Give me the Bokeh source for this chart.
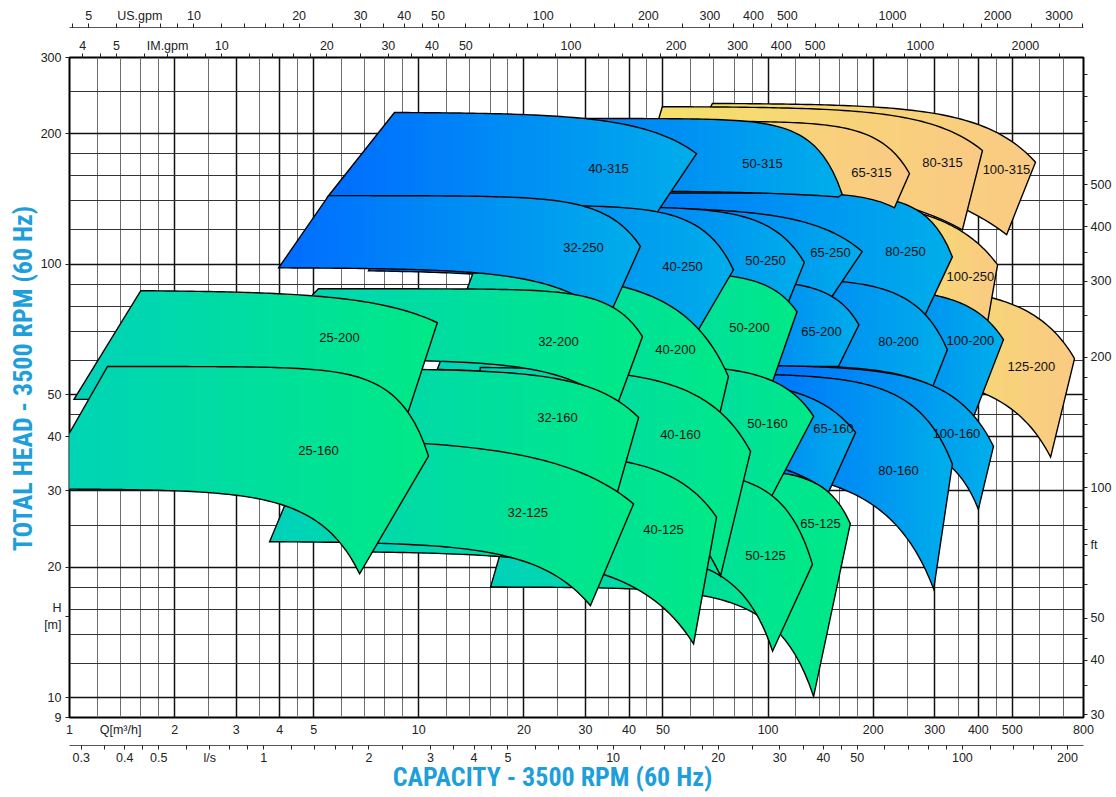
import numpy as np
from bokeh.plotting import figure
from bokeh.models import (Range1d, LogScale, LogAxis, FixedTicker, CustomJSTickFormatter)
from bokeh.embed import file_html
from bokeh.resources import INLINE
from bokeh.core.properties import value

# ---------------- data: pump operating regions (back -> front drawing order) -------------
pump_names = ["125-200", "100-315", "100-250", "100-200", "80-315", "80-250", "80-200",
              "65-315", "65-250", "65-200", "100-160", "80-160", "65-160", "65-125",
              "50-315", "50-250", "50-200", "50-160", "50-125",
              "40-315", "40-250", "40-200", "40-160", "40-125",
              "32-250", "32-200", "32-160", "32-125", "25-200", "25-160"]
pump_kind = ["o", "o", "o", "b", "o", "b", "b",
             "o", "b", "b", "b", "b", "b", "g",
             "b", "b", "g", "g", "g",
             "b", "b", "g", "g", "g",
             "b", "g", "g", "g", "g", "g"]
# corners / mid points of the max-impeller (top) and min-impeller (bottom) curves, Q [m3/h], H [m]
tl_q = [239, 69.3, 210, 141, 49.8, 33.1, 64.1, 33.1, 43.1, 64.1, 98.3, 98.3, 78.1, 20.1,
        19.6, 25.5, 25.5, 33.1, 22.3, 8.52, 8.86, 14.3, 15.0, 8.03, 5.52, 5.16, 4.59, 4.96, 1.60, 1.285]
tl_h = [88.7, 235, 137, 88.3, 231, 146, 93.0, 214, 135, 92.1, 58.4, 55.7, 53.6, 33.7,
        217, 136, 96.0, 58.7, 33.7, 224, 137, 95.5, 57.8, 37.0, 144, 87.8, 57.4, 39.5, 86.9, 58.1]
tm_q = [602, 387, 387, 387, 279, 286, 282, 200, 161, 153, 312, 251, 135, 135,
        138, 104, 104, 121, 104, 45.2, 69.8, 56.1, 73.1, 52.5, 36.1, 36.1, 37.3, 29.0, 7.77, 7.77]
tm_h = [74.5, 212, 114, 78.6, 213, 128, 76.5, 196, 116, 84.1, 51.4, 48.0, 48.8, 31.4,
        185, 120, 87.3, 49.5, 29.0, 204, 114, 77.3, 45.5, 32.4, 127, 79.4, 48.3, 33.1, 80.7, 52.2]
tr_q = [754, 583, 454, 472, 411, 337, 326, 254, 186, 182, 442, 337, 178, 172,
        163, 127, 121, 135, 134, 62.4, 79.6, 77.0, 89.1, 71.2, 43.1, 43.7, 42.6, 41.2, 11.3, 10.66]
tr_h = [60.6, 172, 99.7, 67.0, 183, 104, 63.5, 162, 107, 72.5, 38.0, 34.6, 40.9, 25.2,
        145, 101, 77.7, 44.6, 20.3, 180, 97.1, 55.1, 37.0, 26.1, 110, 68.1, 44.3, 28.0, 73.3, 36.1]
br_q = [644, 482, 419, 380, 360, 273, 296, 230, 147, 159, 400, 298, 149, 135,
        159, 112, 100, 102, 103, 47.6, 60.8, 71.2, 73.1, 61.2, 34.9, 36.6, 35.2, 31.0, 9.34, 6.77]
br_h = [35.9, 117, 68.8, 42.7, 120, 72.5, 52.2, 135, 80.7, 58.1, 27.2, 17.8, 29.8, 10.06,
        143, 78.6, 50.1, 29.0, 12.8, 130, 67.0, 42.0, 19.1, 13.3, 75.3, 46.3, 25.8, 16.3, 45.8, 19.3]
bm_q = [538, 387, 333, 292, 292, 172, 200, 172, 109, 124, 344, 224, 118, 93.3,
        95.1, 64.1, 73.1, 83.4, 85.0, 25.5, 14.1, 43.1, 67.1, 45.2, 26.7, 26.0, 17.1, 25.5, 3.30, 4.59]
bm_h = [43.9, 131, 74.5, 51.4, 130, 82.8, 57.0, 144, 82.8, 58.0, 33.3, 25.8, 33.1, 15.5,
        146, 85.0, 52.8, 29.9, 17.2, 134, 95.0, 50.9, 21.7, 17.2, 86.4, 54.8, 34.6, 18.8, 48.3, 26.8]
bl_q = [210, 56.1, 210, 124, 43.1, 25.5, 60.0, 31.0, 37.8, 60.0, 95.1, 83.4, 64.1, 16.05,
        15.0, 22.3, 22.3, 33.1, 22.3, 5.48, 7.18, 11.3, 14.1, 6.81, 3.97, 3.30, 4.29, 3.74, 1.03, 0.81]
bl_h = [55.7, 169, 82.8, 57.2, 156, 92.1, 58.7, 147, 87.3, 59.6, 39.5, 33.7, 36.4, 18.0,
        148, 92.1, 60.3, 34.6, 21.8, 143, 96.6, 57.2, 33.7, 21.7, 98.1, 60.3, 39.5, 22.9, 48.8, 30.3]
# label anchors for the pump names
label_q = [567.7, 481.5, 379.7, 379.7, 315.8, 247.4, 236.3, 197.7, 150.9, 142.2, 346.3, 236.3, 153.9, 141.3,
           96.4, 98.3, 88.5, 99.6, 98.3, 34.9, 56.9, 54.3, 56.1, 50.2, 29.6, 25.1, 24.96, 20.5, 5.93, 5.16]
label_h = [58.1, 165.8, 93.5, 66.6, 172.0, 106.8, 66.3, 163.2, 106.2, 69.9, 40.7, 33.5, 41.8, 25.2,
           171.1, 101.8, 71.4, 42.96, 21.3, 166.7, 98.6, 63.5, 40.5, 24.5, 109.6, 66.3, 44.3, 26.8, 67.7, 37.2]

# ---------------- axes data ----------------
q_ticks = [1, 1.4, 2, 3, 4, 5, 10, 20, 30, 40, 50, 100, 200, 300, 400, 500, 800]
q_names = {1.4: "Q[m³/h]"}
h_ticks = [9, 10, 15.4, 20, 30, 40, 50, 100, 200, 300]
h_names = {15.4: "H\n[m]"}
ls_major = [0.3, 0.4, 0.5, 0.7, 1, 2, 3, 4, 5, 10, 20, 30, 40, 50, 100, 200]
ls_names = {0.7: "l/s"}
us_major = [5, 7, 10, 20, 30, 40, 50, 100, 200, 300, 400, 500, 1000, 2000, 3000]
us_names = {7: "US.gpm"}
im_major = [4, 5, 7, 10, 20, 30, 40, 50, 100, 200, 300, 400, 500, 1000, 2000]
im_names = {7: "IM.gpm"}
ft_major = [30, 40, 50, 74, 100, 200, 300, 400, 500]
ft_names = {74: "ft"}
x_grid_major = [1, 2, 3, 4, 5, 10, 20, 30, 40, 50, 100, 200, 300, 400, 500]
y_grid_major = [10, 20, 30, 40, 50, 100, 200, 300]
GRID_MULTS = [1, 1.2, 1.4, 1.6, 1.8, 2, 2.5, 3, 3.5, 4, 4.5, 5, 6, 7, 8, 9]

Q_RANGE = (1, 800)
H_RANGE = (9, 300)
TO_LS, TO_US, TO_IM, TO_FT = 1 / 3.6, 4.40287, 3.66615, 3.28084

KIND_COLORS = {"b": ((0, 108, 255), (0, 174, 234)),
               "g": ((0, 210, 186), (0, 233, 134)),
               "o": ((245, 226, 104), (250, 202, 132))}
FONT = "Liberation Sans"
TITLE_FONT = "Roboto Condensed, DejaVu Sans Condensed, Roboto, sans-serif"
TITLE_COLOR = "#1e9fdc"


def log_steps(lo, hi):
    out = []
    for e in range(-2, 5):
        for m in GRID_MULTS:
            v = round(m * 10 ** e, 6)
            if lo * 0.999 <= v <= hi * 1.001:
                out.append(v)
    return out


def minors(lo, hi, majors):
    maj = {round(x, 6) for x in majors}
    return [v for v in log_steps(lo, hi) if v not in maj]


def fit_curve(q1, h1, qm, hm, q2, h2, npts=70):
    def h_at(n, q):
        if abs(n) < 1e-6:
            n = 1e-6
        k = (h1 - h2) / (q2 ** n - q1 ** n)
        return h1 - k * (np.asarray(q, float) ** n - q1 ** n)
    lo, hi = -10.0, 40.0
    for _ in range(100):
        mid = 0.5 * (lo + hi)
        if h_at(mid, qm) > hm:
            hi = mid
        else:
            lo = mid
    n = 0.5 * (lo + hi)
    qs = np.logspace(np.log10(q1), np.log10(q2), npts)
    return qs, h_at(n, qs)


def clip_half(poly, a, keep_ge):
    out = []
    m = len(poly)
    for i in range(m):
        cx, cy = poly[i]
        px, py = poly[i - 1]
        cin = cx >= a if keep_ge else cx <= a
        pin = px >= a if keep_ge else px <= a
        if cin != pin:
            t = (a - px) / (cx - px)
            out.append((a, py + t * (cy - py)))
        if cin:
            out.append((cx, cy))
    return out


def lerp_color(c0, c1, t):
    return "#%02x%02x%02x" % tuple(int(round(a + (b - a) * t)) for a, b in zip(c0, c1))


p = figure(width=1116, height=795, x_axis_type="log", y_axis_type="log",
           x_range=Range1d(*Q_RANGE), y_range=Range1d(*H_RANGE),
           output_backend="svg", toolbar_location=None,
           min_border_left=69, min_border_right=33, min_border_top=57, min_border_bottom=78)
p.background_fill_color = "white"
p.border_fill_color = "white"
p.outline_line_color = "black"
p.outline_line_width = 2

p.extra_x_ranges = {"ls": Range1d(Q_RANGE[0] * TO_LS, Q_RANGE[1] * TO_LS),
                    "us": Range1d(Q_RANGE[0] * TO_US, Q_RANGE[1] * TO_US),
                    "im": Range1d(Q_RANGE[0] * TO_IM, Q_RANGE[1] * TO_IM)}
p.extra_x_scales = {"ls": LogScale(), "us": LogScale(), "im": LogScale()}
p.extra_y_ranges = {"ft": Range1d(H_RANGE[0] * TO_FT, H_RANGE[1] * TO_FT)}
p.extra_y_scales = {"ft": LogScale()}

fmt = CustomJSTickFormatter(code="return String(Math.round(tick*1000)/1000);")


def style_axis(ax, tick_out=4, standoff=3):
    ax.formatter = fmt
    ax.major_label_text_font = FONT
    ax.major_label_text_font_size = "12.5px"
    ax.major_label_text_color = "#222222"
    ax.major_tick_out = tick_out
    ax.major_tick_in = 0
    ax.minor_tick_out = tick_out
    ax.minor_tick_in = 0
    ax.major_tick_line_color = "#222222"
    ax.minor_tick_line_color = "#222222"
    ax.major_label_standoff = standoff


# grids
p.xgrid.ticker = FixedTicker(ticks=x_grid_major, minor_ticks=minors(*Q_RANGE, x_grid_major))
p.xgrid.grid_line_color = "#111111"
p.xgrid.grid_line_width = 1.5
p.xgrid.minor_grid_line_color = "#6e6e6e"
p.xgrid.minor_grid_line_width = 1
p.ygrid.ticker = FixedTicker(ticks=y_grid_major, minor_ticks=minors(*H_RANGE, y_grid_major))
p.ygrid.grid_line_color = "#111111"
p.ygrid.grid_line_width = 1.5
p.ygrid.minor_grid_line_color = "#333333"
p.ygrid.minor_grid_line_width = 1

# main axes
xa = p.xaxis[0]
xa.ticker = FixedTicker(ticks=q_ticks, minor_ticks=[])
style_axis(xa, tick_out=0, standoff=5)
xa.axis_line_color = None
xa.major_label_overrides = q_names
xa.axis_label = "\u00a0"
xa.axis_label_text_font_size = "3px"
xa.axis_label_standoff = 0

ya = p.yaxis[0]
ya.ticker = FixedTicker(ticks=h_ticks, minor_ticks=[])
style_axis(ya, tick_out=4, standoff=4)
ya.axis_line_color = None
ya.major_label_overrides = h_names
ya.axis_label = "\u00a0\u00a0\u00a0TOTAL HEAD - 3500 RPM (60 Hz)"
ya.axis_label_text_font = TITLE_FONT
ya.axis_label_text_font_style = "bold"
ya.axis_label_text_font_size = "26px"
ya.axis_label_text_color = TITLE_COLOR
ya.axis_label_standoff = 0

ls_axis = LogAxis(x_range_name="ls",
                  ticker=FixedTicker(ticks=ls_major, minor_ticks=minors(Q_RANGE[0] * TO_LS, Q_RANGE[1] * TO_LS, ls_major)))
style_axis(ls_axis, tick_out=4, standoff=1)
ls_axis.axis_line_color = "#555555"
ls_axis.major_label_overrides = ls_names
ls_axis.axis_label = "CAPACITY - 3500 RPM (60 Hz)" + "\u00a0" * 8
ls_axis.axis_label_text_font = TITLE_FONT
ls_axis.axis_label_text_font_style = "bold"
ls_axis.axis_label_text_font_size = "26px"
ls_axis.axis_label_text_color = TITLE_COLOR
ls_axis.axis_label_standoff = -6
p.add_layout(ls_axis, "below")

im_axis = LogAxis(x_range_name="im",
                  ticker=FixedTicker(ticks=im_major, minor_ticks=minors(Q_RANGE[0] * TO_IM, Q_RANGE[1] * TO_IM, im_major)))
style_axis(im_axis, tick_out=4, standoff=1)
im_axis.axis_line_color = None
im_axis.major_label_overrides = im_names
im_axis.axis_label = "\u00a0"
im_axis.axis_label_text_font_size = "4px"
im_axis.axis_label_standoff = 0
p.add_layout(im_axis, "above")

us_axis = LogAxis(x_range_name="us",
                  ticker=FixedTicker(ticks=us_major, minor_ticks=minors(Q_RANGE[0] * TO_US, Q_RANGE[1] * TO_US, us_major)))
style_axis(us_axis, tick_out=4, standoff=1)
us_axis.axis_line_color = "#555555"
us_axis.major_label_overrides = us_names
p.add_layout(us_axis, "above")

ft_axis = LogAxis(y_range_name="ft",
                  ticker=FixedTicker(ticks=ft_major, minor_ticks=minors(H_RANGE[0] * TO_FT, H_RANGE[1] * TO_FT, ft_major)))
style_axis(ft_axis, tick_out=4, standoff=3)
ft_axis.axis_line_color = None
ft_axis.major_label_overrides = ft_names
p.add_layout(ft_axis, "right")

# pump regions with horizontal gradient fill
NSTRIP = 30
for i in range(len(pump_names)):
    tq, th = fit_curve(tl_q[i], tl_h[i], tm_q[i], tm_h[i], tr_q[i], tr_h[i])
    bq, bh = fit_curve(bl_q[i], bl_h[i], bm_q[i], bm_h[i], br_q[i], br_h[i])
    u = np.concatenate([np.log10(tq), np.log10(bq)[::-1]])
    v = np.concatenate([np.log10(th), np.log10(bh)[::-1]])
    poly = list(zip(u, v))
    umin, umax = float(u.min()), float(u.max())
    w = (umax - umin) / NSTRIP
    c0, c1 = KIND_COLORS[pump_kind[i]]
    xs, ys, cols = [], [], []
    for s in range(NSTRIP):
        a = umin + s * w
        b = a + w * (1.6 if s < NSTRIP - 1 else 1.0)
        piece = clip_half(clip_half(poly, a, True), b, False)
        if len(piece) < 3:
            continue
        pu, pv = zip(*piece)
        xs.append(list(10 ** np.array(pu)))
        ys.append(list(10 ** np.array(pv)))
        cols.append(lerp_color(c0, c1, (s + 0.5) / NSTRIP))
    p.patches(xs=xs, ys=ys, fill_color=cols, line_color=None)
    p.patch(list(10 ** u), list(10 ** v), fill_color=None, line_color="black",
            line_width=1.4, line_join="miter")

p.text(x=label_q, y=label_h, text=pump_names, text_font=value(FONT),
       text_font_size=value("13px"), text_align="center", text_baseline="middle",
       text_color="#111111")

open("out.html", "w").write(file_html(p, INLINE))
